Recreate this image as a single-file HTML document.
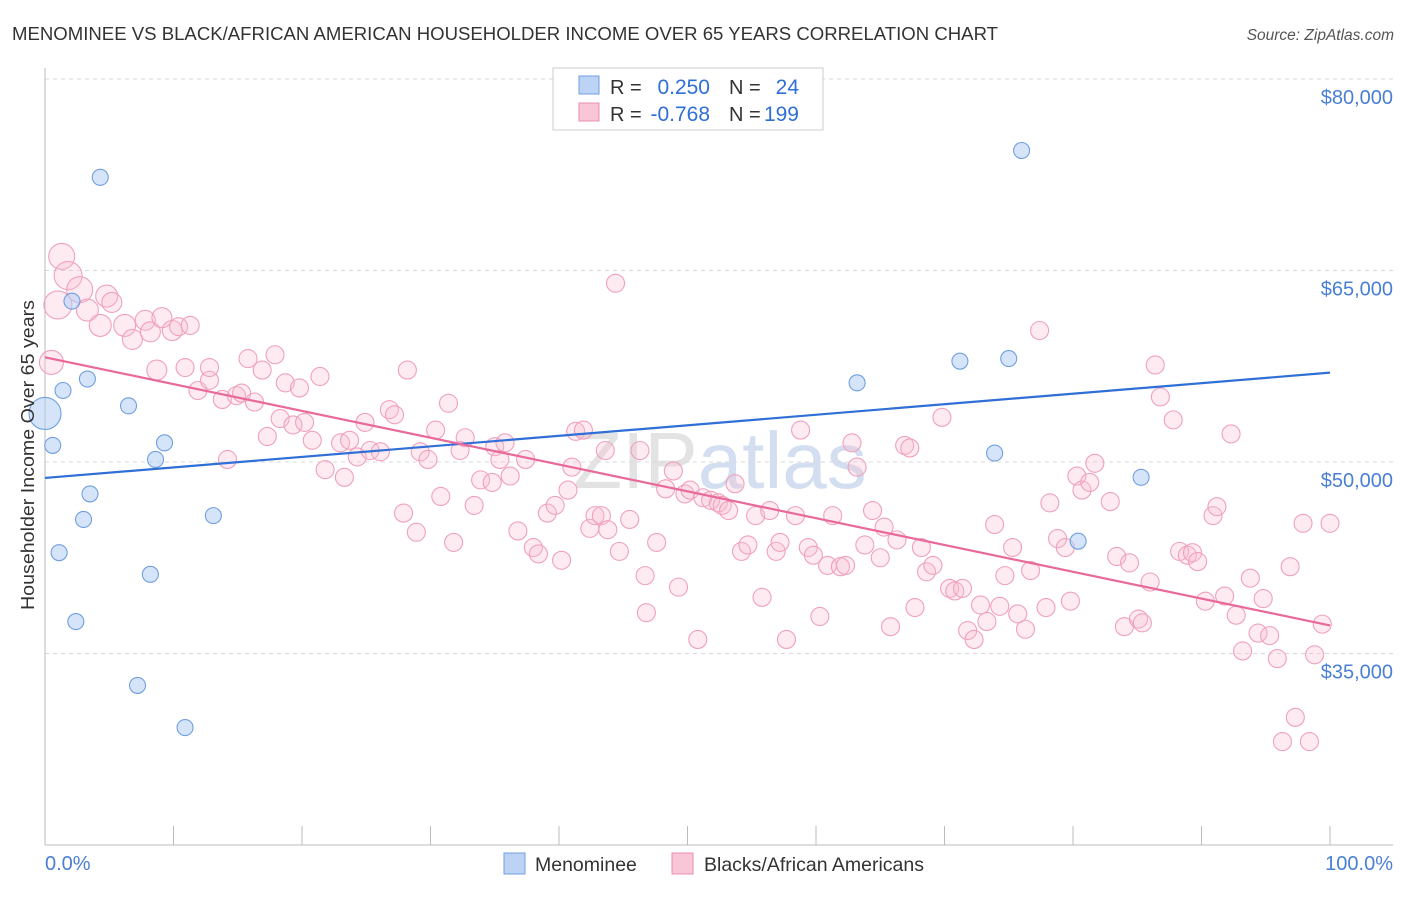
<!DOCTYPE html>
<html><head><meta charset="utf-8"><style>
body{margin:0;background:#fff;font-family:"Liberation Sans",sans-serif;}
svg text{font-family:"Liberation Sans",sans-serif;}
</style></head><body>
<svg id="chart" width="1406" height="892" viewBox="0 0 1406 892" xmlns="http://www.w3.org/2000/svg">
<text x="12" y="40" font-size="18" fill="#333" textLength="986" lengthAdjust="spacingAndGlyphs">MENOMINEE VS BLACK/AFRICAN AMERICAN HOUSEHOLDER INCOME OVER 65 YEARS CORRELATION CHART</text>
<text x="1394" y="40" font-size="15.5" fill="#555" text-anchor="end" font-style="italic">Source: ZipAtlas.com</text>
<text x="720" y="488" font-size="80" fill="#dfe6f0" text-anchor="middle" font-family="Liberation Serif"><tspan fill="#e3e3e3">ZIP</tspan><tspan fill="#d3def0" font-family="Liberation Sans">atlas</tspan></text>
<g id="grid"></g>
<g id="axes"></g>
<g id="pinkpts"></g>
<g id="bluepts"></g>
<g id="lines"></g>
<text transform="translate(34,455) rotate(-90)" font-size="18" fill="#333" text-anchor="middle" textLength="310" lengthAdjust="spacingAndGlyphs">Householder Income Over 65 years</text>
<text x="45" y="870" font-size="20" fill="#4a7fd4">0.0%</text>
<text x="1393" y="870" font-size="20" fill="#4a7fd4" text-anchor="end">100.0%</text>
<g>
<rect x="553" y="68" width="270" height="62" fill="#fff" stroke="#ccc"/>
<rect x="579" y="76" width="20" height="18" fill="#bcd3f5" stroke="#6f9fe0"/>
<rect x="579" y="103" width="20" height="18" fill="#f8c6d6" stroke="#ec8fae"/>
<text x="610" y="94" font-size="20" fill="#333">R = </text>
<text x="710" y="94" font-size="21" fill="#2f6fd6" text-anchor="end">0.250</text>
<text x="729" y="94" font-size="20" fill="#333">N = </text>
<text x="799" y="94" font-size="21" fill="#2f6fd6" text-anchor="end">24</text>
<text x="610" y="121" font-size="20" fill="#333">R = </text>
<text x="710" y="121" font-size="21" fill="#2f6fd6" text-anchor="end">-0.768</text>
<text x="729" y="121" font-size="20" fill="#333">N = </text>
<text x="799" y="121" font-size="21" fill="#2f6fd6" text-anchor="end">199</text>
</g>
<g>
<rect x="504" y="853" width="21" height="21" fill="#bcd3f5" stroke="#6f9fe0"/>
<text x="535" y="871" font-size="19.5" fill="#333">Menominee</text>
<rect x="672" y="853" width="21" height="21" fill="#f8c6d6" stroke="#ec8fae"/>
<text x="704" y="871" font-size="19.5" fill="#333">Blacks/African Americans</text>
</g>
</svg>
<script>
const yTicks=[80000,65000,50000,35000];
const yTickLabels=["$80,000","$65,000","$50,000","$35,000"];
const blueX=[0,0.6,1.4,3.3,2.1,4.3,6.5,9.3,8.6,3.5,3.0,1.1,8.2,2.4,7.2,10.9,13.1,63.2,71.2,75.0,73.9,76.0,85.3,80.4];
const blueY=[53.8,51.3,55.6,56.5,62.6,72.3,54.4,51.5,50.2,47.5,45.5,42.9,41.2,37.5,32.5,29.2,45.8,56.2,57.9,58.1,50.7,74.4,48.8,43.8];
const blueSize=[16];
const pinkX=[1.0,0.5,1.3,1.8,2.7,3.3,4.3,4.8,5.2,6.2,6.8,7.8,8.2,9.1,9.9,10.4,11.3,8.7,10.9,11.9,12.8,12.8,13.8,14.9,15.3,15.8,16.3,16.9,17.9,18.7,19.8,21.4,14.2,17.3,18.3,19.3,20.2,20.8,21.8,23.0,23.3,23.7,24.3,24.9,25.3,26.1,26.8,27.2,28.2,27.9,28.9,29.2,29.8,30.4,30.8,31.4,31.8,32.3,32.7,33.4,33.9,34.8,35.0,35.4,35.8,36.2,36.8,37.4,38.0,38.4,39.1,39.7,40.2,40.7,41.0,41.3,41.9,42.4,42.8,43.3,43.8,43.6,44.4,44.7,45.5,46.3,46.7,46.8,47.6,48.3,48.9,49.3,49.8,50.2,50.8,51.2,51.8,52.4,52.7,53.2,53.7,54.2,54.7,55.3,55.8,56.4,56.9,57.2,57.7,58.4,58.8,59.4,59.8,60.3,60.9,61.3,61.9,62.3,62.8,63.2,63.8,64.4,65.0,65.3,65.8,66.3,66.9,67.3,67.7,68.2,68.6,69.1,69.8,70.4,70.8,71.4,71.8,72.3,72.8,73.3,73.9,74.3,74.7,75.3,75.7,76.3,76.7,77.4,77.9,78.2,78.8,79.4,79.8,80.3,80.7,81.3,81.7,82.9,83.4,84.0,84.4,85.1,85.4,86.0,86.4,86.8,87.8,88.3,88.9,89.3,89.7,90.3,90.9,91.2,91.8,92.3,92.7,93.2,93.8,94.4,94.8,95.3,95.9,96.3,96.9,97.3,97.9,98.4,98.8,99.4,100];
const pinkY=[62.3,57.8,66.1,64.6,63.5,61.9,60.7,63.0,62.5,60.7,59.6,61.1,60.2,61.3,60.3,60.6,60.7,57.2,57.4,55.6,56.4,57.4,54.9,55.2,55.4,58.1,54.7,57.2,58.4,56.2,55.8,56.7,50.2,52.0,53.4,52.9,53.1,51.7,49.4,51.5,48.8,51.7,50.4,53.1,50.9,50.8,54.1,53.7,57.2,46.0,44.5,50.8,50.2,52.5,47.3,54.6,43.7,50.9,51.9,46.6,48.6,48.4,51.2,50.2,51.5,48.9,44.6,50.2,43.3,42.8,46.0,46.6,42.3,47.8,49.6,52.4,52.5,44.8,45.8,45.8,44.7,50.9,64.0,43.0,45.5,50.9,41.1,38.2,43.7,47.9,49.3,40.2,47.5,47.8,36.1,47.2,47.0,46.8,46.6,46.2,48.3,43.0,43.5,45.8,39.4,46.2,43.0,43.7,36.1,45.8,52.5,43.3,42.7,37.9,41.9,45.8,41.8,41.9,51.5,49.6,43.5,46.2,42.5,44.9,37.1,43.9,51.3,51.1,38.6,43.3,41.4,41.9,53.5,40.1,39.9,40.1,36.8,36.1,38.8,37.5,45.1,38.7,41.1,43.3,38.1,36.9,41.5,60.3,38.6,46.8,44.0,43.3,39.1,48.9,47.8,48.4,49.9,46.9,42.6,37.1,42.1,37.7,37.4,40.6,57.6,55.1,53.3,43.0,42.7,42.9,42.2,39.1,45.8,46.5,39.5,52.2,38.0,35.2,40.9,36.6,39.3,36.4,34.6,28.1,41.8,30.0,45.2,28.1,34.9,37.3,45.2];
const pinkSize=[14,12,13,14,13,11,11,11,10,11,10,10,10,10,10,9,9,10,9,9,9,9,9,9,9,9,9,9,9,9,9,9];
const blueFit=[48.75,57.0];
const pinkFit=[58.2,37.2];

const NS="http://www.w3.org/2000/svg";
const X0=45,X1=1330,YTOP=79,PXPER=191.5/15000;
function xs(p){return X0+(X1-X0)*p/100;}
function ys(v){return YTOP+(80000-v)*PXPER;}
function mk(tag,attrs,parent){const e=document.createElementNS(NS,tag);for(const k in attrs)e.setAttribute(k,attrs[k]);parent.appendChild(e);return e;}
const grid=document.getElementById('grid'),axes=document.getElementById('axes');
yTicks.forEach((t,i)=>{
  const l=mk('line',{x1:X0,x2:1393,y1:ys(t),y2:ys(t),stroke:'#d8d8d8','stroke-dasharray':'4,4'},grid);
  
  
  const tx=mk('text',{x:1393,y:ys(t)+25,'font-size':20,fill:'#4a7fd4','text-anchor':'end'},grid);
  tx.textContent=yTickLabels[i];
  
  
});
const ax=mk('line',{x1:X0,x2:X0,y1:68,y2:845,stroke:'#bbb'},axes);


const bx=mk('line',{x1:X0,x2:1393,y1:845,y2:845,stroke:'#bbb'},axes);


for(let i=0;i<=10;i++){
  const t=mk('line',{x1:xs(i*10),x2:xs(i*10),y1:826,y2:845,stroke:'#bbb'},axes);
  
  
}
const pg=document.getElementById('pinkpts');
pinkX.forEach((x,i)=>{
  const c=mk('circle',{cx:xs(x),cy:ys(pinkY[i]*1000),r:pinkSize[i]||9,fill:'rgba(248,190,210,0.3)',stroke:'#f0a0bc','stroke-width':1.1},pg);
  
  
});
const bg=document.getElementById('bluepts');
blueX.forEach((x,i)=>{
  const c=mk('circle',{cx:xs(x),cy:ys(blueY[i]*1000),r:blueSize[i]||8,fill:'rgba(180,206,245,0.55)',stroke:'#6f9fe0','stroke-width':1.1},bg);
  
  
});
const lg=document.getElementById('lines');
const b=mk('line',{x1:xs(0),x2:xs(100),y1:ys(blueFit[0]*1000),y2:ys(blueFit[1]*1000),stroke:'#2f6fd6','stroke-width':2.2},lg);


const p=mk('line',{x1:xs(0),x2:xs(100),y1:ys(pinkFit[0]*1000),y2:ys(pinkFit[1]*1000),stroke:'#e8699a','stroke-width':2.2},lg);


</script>
</body></html>
